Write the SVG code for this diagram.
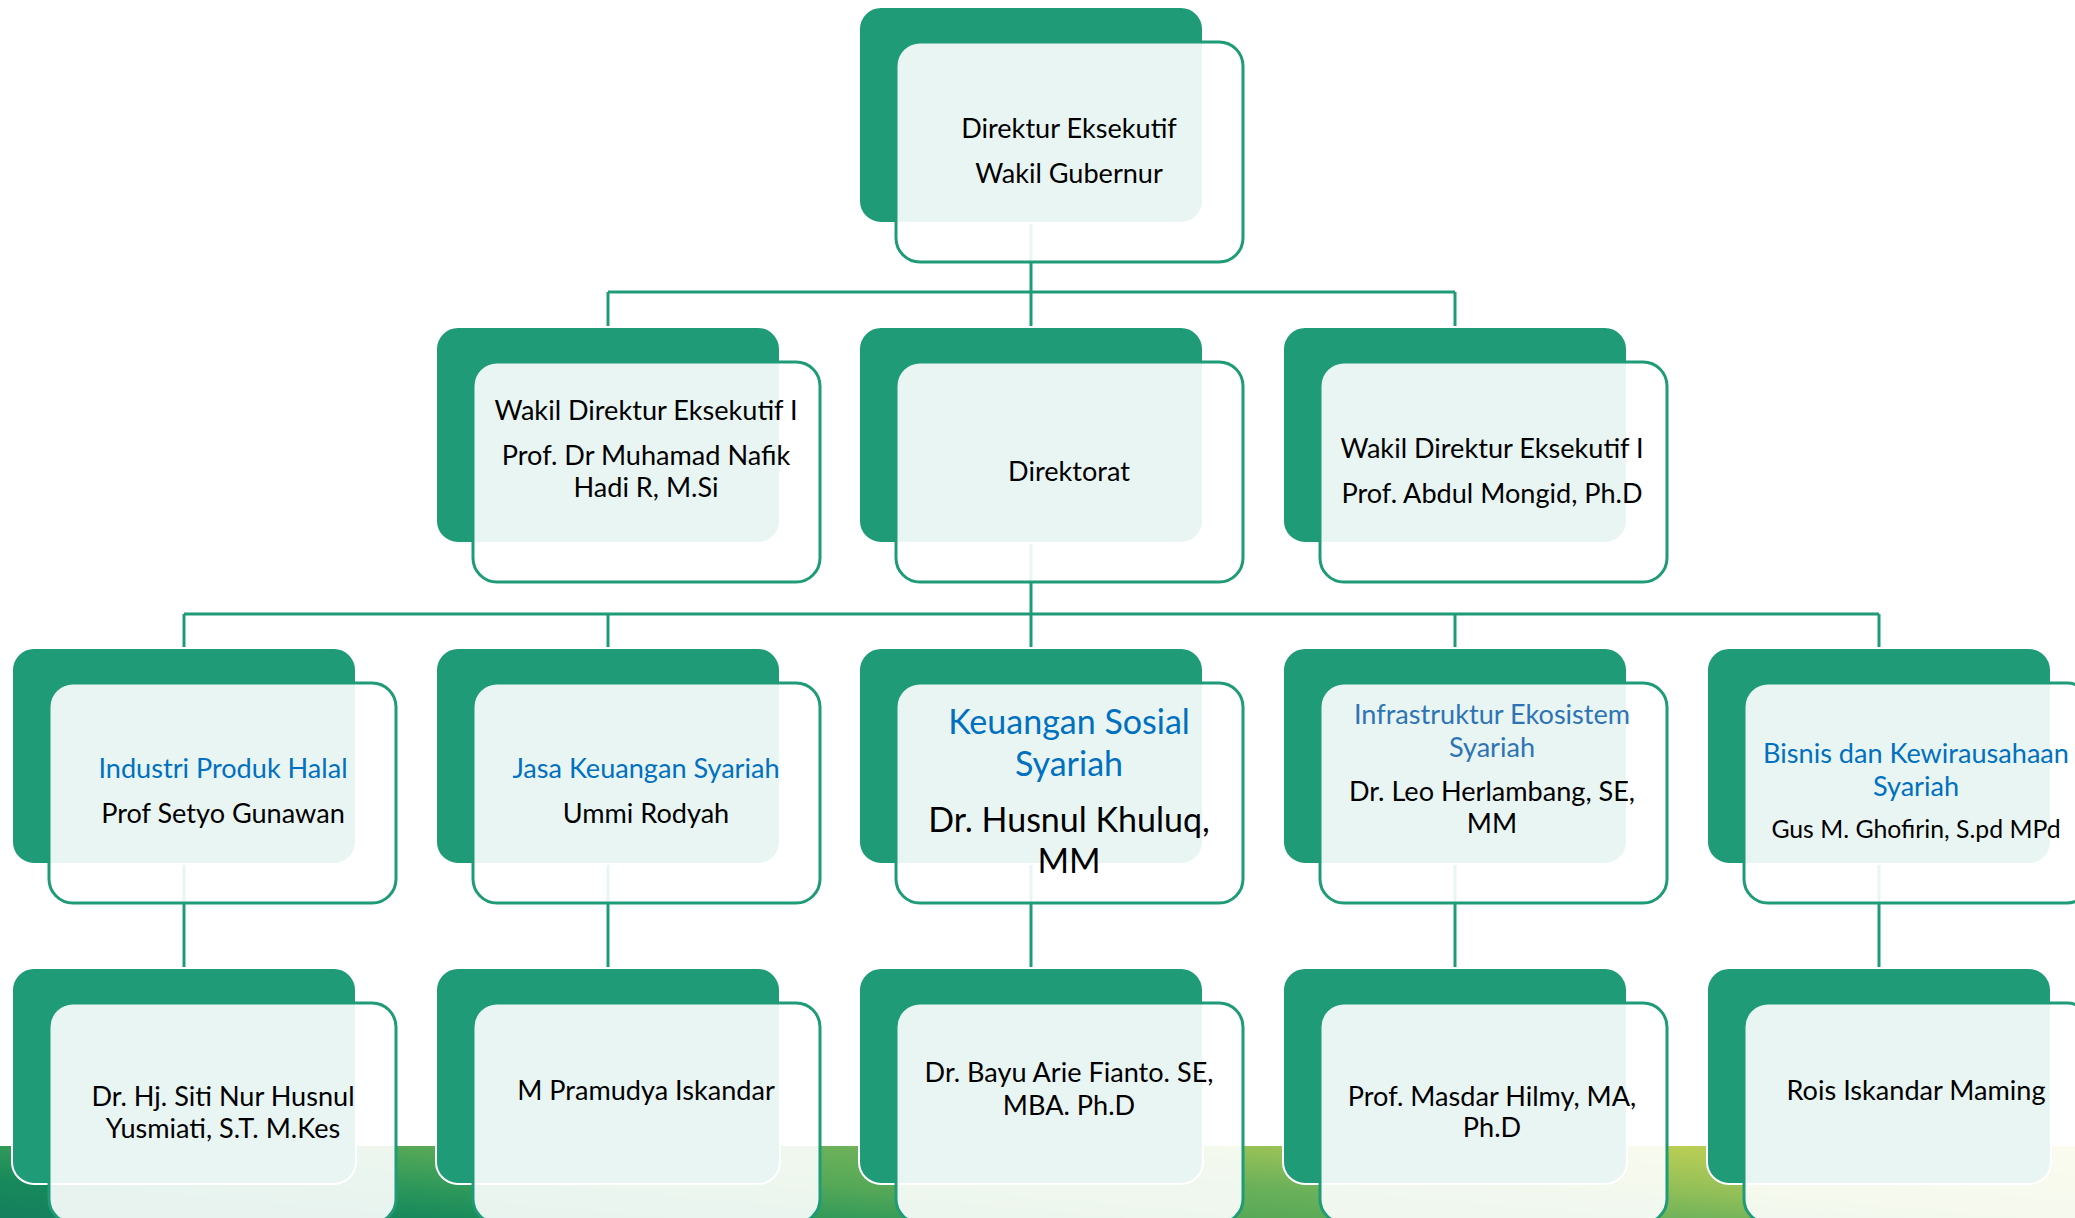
<svg xmlns="http://www.w3.org/2000/svg" width="2075" height="1218" viewBox="0 0 2075 1218">
<defs>
<linearGradient id="band" gradientUnits="userSpaceOnUse" x1="0" y1="1218" x2="22" y2="968">
<stop offset="0" stop-color="#15805E"/>
<stop offset="0.15" stop-color="#17895B"/>
<stop offset="0.28" stop-color="#30995A"/>
<stop offset="0.42" stop-color="#55A857"/>
<stop offset="0.57" stop-color="#6CB15A"/>
<stop offset="0.7" stop-color="#92BF58"/>
<stop offset="0.85" stop-color="#B5CC55"/>
<stop offset="1" stop-color="#C6D455"/>
</linearGradient>
<style>
.dk{fill:#1F9B78;stroke:#FFFFFF;stroke-width:2}
.lt{fill:#FFFFFF;fill-opacity:0.9;stroke:#1F9B78;stroke-width:3}
.cn{fill:none;stroke:#1F9B78;stroke-width:3}
text{font-family:Lato,"Liberation Sans",sans-serif;font-size:27.1px;fill:#000000;text-anchor:middle}
.b{fill:#0070C0}
.b2{fill:#2E74B5}
.big{font-size:34px}
.sm{font-size:24.8px}
</style>
</defs>
<rect x="0" y="1146" width="2075" height="72" fill="url(#band)"/>
<g id="connectors">
<path class="cn" d="M1031 223V292M608 292H1455M608 292V327M1031 292V327M1455 292V327"/>
<path class="cn" d="M1031 544V614M184 614H1879M184 614V648M608 614V648M1031 614V648M1455 614V648M1879 614V648"/>
<path class="cn" d="M184 864V968M608 864V968M1031 864V968M1455 864V968M1879 864V968"/>
</g>
<g id="n-direktur">
<rect class="dk" x="859" y="7" width="344" height="216" rx="22"/>
<rect class="lt" x="896" y="42" width="347" height="220" rx="24"/>
<text x="1069" y="138">Direktur Eksekutif</text>
<text x="1069" y="183">Wakil Gubernur</text>
</g>
<g id="n-wadir1">
<rect class="dk" x="436" y="327" width="344" height="216" rx="22"/>
<rect class="lt" x="473" y="362" width="347" height="220" rx="24"/>
<text x="646" y="420">Wakil Direktur Eksekutif I</text>
<text x="646" y="465">Prof. Dr Muhamad Nafik</text>
<text x="646" y="497">Hadi R, M.Si</text>
</g>
<g id="n-direktorat">
<rect class="dk" x="859" y="327" width="344" height="216" rx="22"/>
<rect class="lt" x="896" y="362" width="347" height="220" rx="24"/>
<text x="1069" y="481">Direktorat</text>
</g>
<g id="n-wadir2">
<rect class="dk" x="1283" y="327" width="344" height="216" rx="22"/>
<rect class="lt" x="1320" y="362" width="347" height="220" rx="24"/>
<text x="1492" y="458">Wakil Direktur Eksekutif I</text>
<text x="1492" y="503">Prof. Abdul Mongid, Ph.D</text>
</g>
<g id="n-iph">
<rect class="dk" x="12" y="648" width="344" height="216" rx="22"/>
<rect class="lt" x="49" y="683" width="347" height="220" rx="24"/>
<text class="b" x="223" y="778">Industri Produk Halal</text>
<text x="223" y="823">Prof Setyo Gunawan</text>
</g>
<g id="n-jks">
<rect class="dk" x="436" y="648" width="344" height="216" rx="22"/>
<rect class="lt" x="473" y="683" width="347" height="220" rx="24"/>
<text class="b" x="646" y="778">Jasa Keuangan Syariah</text>
<text x="646" y="823">Ummi Rodyah</text>
</g>
<g id="n-kss">
<rect class="dk" x="859" y="648" width="344" height="216" rx="22"/>
<rect class="lt" x="896" y="683" width="347" height="220" rx="24"/>
<text class="b big" x="1069" y="734">Keuangan Sosial</text>
<text class="b big" x="1069" y="776">Syariah</text>
<text class="big" x="1069" y="832">Dr. Husnul Khuluq,</text>
<text class="big" x="1069" y="873">MM</text>
</g>
<g id="n-ies">
<rect class="dk" x="1283" y="648" width="344" height="216" rx="22"/>
<rect class="lt" x="1320" y="683" width="347" height="220" rx="24"/>
<text class="b2" x="1492" y="724">Infrastruktur Ekosistem</text>
<text class="b2" x="1492" y="757">Syariah</text>
<text x="1492" y="801">Dr. Leo Herlambang, SE,</text>
<text x="1492" y="833">MM</text>
</g>
<g id="n-bks">
<rect class="dk" x="1707" y="648" width="344" height="216" rx="22"/>
<rect class="lt" x="1744" y="683" width="347" height="220" rx="24"/>
<text class="b" x="1916" y="763">Bisnis dan Kewirausahaan</text>
<text class="b" x="1916" y="796">Syariah</text>
<text class="sm" x="1916" y="838">Gus M. Ghofirin, S.pd MPd</text>
</g>
<g id="n-siti">
<rect class="dk" x="12" y="968" width="344" height="216" rx="22"/>
<rect class="lt" x="49" y="1003" width="347" height="220" rx="24"/>
<text x="223" y="1106">Dr. Hj. Siti Nur Husnul</text>
<text x="223" y="1138">Yusmiati, S.T. M.Kes</text>
</g>
<g id="n-pramudya">
<rect class="dk" x="436" y="968" width="344" height="216" rx="22"/>
<rect class="lt" x="473" y="1003" width="347" height="220" rx="24"/>
<text x="646" y="1100">M Pramudya Iskandar</text>
</g>
<g id="n-bayu">
<rect class="dk" x="859" y="968" width="344" height="216" rx="22"/>
<rect class="lt" x="896" y="1003" width="347" height="220" rx="24"/>
<text x="1069" y="1082">Dr. Bayu Arie Fianto. SE,</text>
<text x="1069" y="1115">MBA. Ph.D</text>
</g>
<g id="n-masdar">
<rect class="dk" x="1283" y="968" width="344" height="216" rx="22"/>
<rect class="lt" x="1320" y="1003" width="347" height="220" rx="24"/>
<text x="1492" y="1106">Prof. Masdar Hilmy, MA,</text>
<text x="1492" y="1137">Ph.D</text>
</g>
<g id="n-rois">
<rect class="dk" x="1707" y="968" width="344" height="216" rx="22"/>
<rect class="lt" x="1744" y="1003" width="347" height="220" rx="24"/>
<text x="1916" y="1100">Rois Iskandar Maming</text>
</g>
</svg>
